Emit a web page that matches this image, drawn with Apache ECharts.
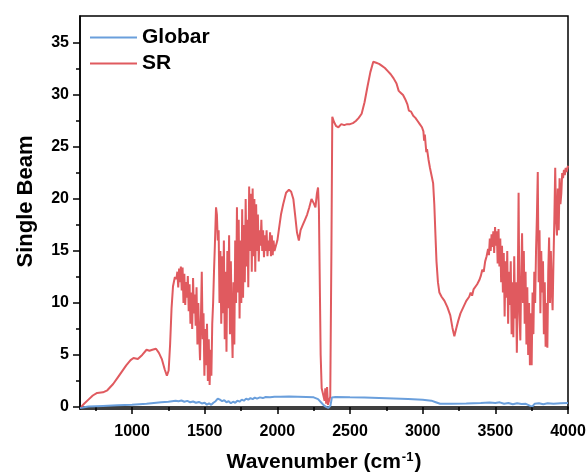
<!DOCTYPE html>
<html>
<head>
<meta charset="utf-8">
<script src="https://cdn.jsdelivr.net/npm/echarts@6/dist/echarts.min.js"></script>
<style>
html, body { margin: 0; padding: 0; background: #fff; }
#chart { width: 587px; height: 473px; }
</style>
</head>
<body>
<div id="chart"></div>
<script>
var xTicks = [1000, 1500, 2000, 2500, 3000, 3500, 4000];
var xMinorTicks = [750, 1250, 1750, 2250, 2750, 3250, 3750];
var yTicks = [0, 5, 10, 15, 20, 25, 30, 35];
var yMinorTicks = [2.5, 7.5, 12.5, 17.5, 22.5, 27.5, 32.5];

// Globar source
var globarX = [642, 700, 800, 900, 1000, 1100, 1200, 1250, 1300, 1320, 1340, 1360, 1380, 1400, 1420, 1440, 1460, 1480, 1500, 1515,
    1530, 1545, 1560, 1575, 1590, 1605, 1620, 1635, 1650, 1665, 1680, 1695, 1710, 1725, 1740, 1755, 1770, 1785, 1800, 1815,
    1830, 1845, 1860, 1880, 1900, 1920, 1950, 1980, 2020, 2080, 2140, 2200, 2250, 2280, 2300, 2320, 2335, 2350, 2365, 2375,
    2400, 2500, 2600, 2700, 2800, 2900, 3000, 3060, 3090, 3120, 3200, 3300, 3400, 3460, 3500, 3530, 3560, 3590, 3620, 3650,
    3680, 3710, 3740, 3755, 3770, 3800, 3830, 3860, 3900, 3950, 4000];
var globarY = [-0.1, 0.05, 0.1, 0.15, 0.2, 0.3, 0.45, 0.5, 0.6, 0.55, 0.62, 0.5, 0.58, 0.45, 0.52, 0.4, 0.48, 0.33, 0.4, 0.22,
    0.35, 0.2, 0.4, 0.55, 0.8, 0.7, 0.55, 0.65, 0.45, 0.55, 0.35, 0.5, 0.4, 0.6, 0.5, 0.7, 0.6, 0.8, 0.7, 0.85,
    0.75, 0.9, 0.8, 0.92, 0.85, 0.95, 0.92, 0.98, 0.97, 1.0, 0.98, 0.95, 0.92, 0.75, 0.45, 0.15, 0.0, -0.1, 0.1, 0.9,
    0.95, 0.92, 0.9, 0.85, 0.8, 0.75, 0.7, 0.6, 0.45, 0.3, 0.3, 0.32, 0.38, 0.42, 0.38, 0.44, 0.3, 0.38, 0.25, 0.35,
    0.28, 0.3, 0.1, 0.05, 0.3, 0.35, 0.25, 0.35, 0.3, 0.35, 0.38];

// SR source
var srX = [650, 670, 700, 730, 760, 800, 830, 870, 900, 930, 960, 990, 1010, 1040, 1070, 1100, 1120, 1140, 1165, 1185,
    1205, 1225, 1240, 1252, 1262, 1272, 1282, 1295, 1305, 1312, 1318, 1324, 1330, 1336, 1342, 1348, 1354, 1360, 1366, 1372,
    1378, 1384, 1390, 1396, 1402, 1408, 1414, 1420, 1426, 1432, 1438, 1444, 1450, 1456, 1462, 1468, 1474, 1480, 1486, 1492,
    1498, 1504, 1510, 1516, 1522, 1528, 1534, 1540, 1546, 1552, 1558, 1564, 1570, 1578, 1584, 1590, 1596, 1602, 1608, 1614,
    1620, 1626, 1632, 1638, 1644, 1650, 1656, 1662, 1668, 1674, 1680, 1686, 1692, 1698, 1704, 1710, 1716, 1722, 1728, 1734,
    1740, 1746, 1752, 1758, 1764, 1770, 1776, 1782, 1788, 1794, 1800, 1806, 1812, 1818, 1824, 1830, 1836, 1842, 1848, 1854,
    1860, 1866, 1872, 1878, 1884, 1890, 1896, 1902, 1908, 1914, 1920, 1926, 1932, 1938, 1944, 1950, 1956, 1962, 1968, 1974,
    1980, 1990, 2000, 2010, 2025, 2040, 2060, 2080, 2095, 2110, 2122, 2135, 2148, 2160, 2175, 2190, 2205, 2220, 2235, 2250,
    2262, 2272, 2280, 2286, 2292, 2298, 2305, 2315, 2325, 2330, 2336, 2342, 2348, 2356, 2364, 2372, 2378, 2390, 2405, 2420,
    2440, 2460, 2480, 2500, 2520, 2540, 2560, 2580, 2600, 2620, 2640, 2660, 2680, 2700, 2720, 2740, 2760, 2780, 2800, 2820,
    2835, 2850, 2865, 2880, 2895, 2905, 2920, 2935, 2950, 2965, 2980, 2995, 3005, 3010, 3015, 3020, 3025, 3030, 3040, 3050,
    3065, 3072, 3080, 3088, 3095, 3105, 3115, 3130, 3150, 3170, 3190, 3205, 3218, 3230, 3245, 3260, 3280, 3300, 3320, 3330,
    3340, 3350, 3360, 3375, 3390, 3400, 3410, 3420, 3430, 3440, 3450, 3456, 3462, 3468, 3474, 3480, 3486, 3492, 3498, 3504,
    3510, 3516, 3522, 3528, 3534, 3540, 3546, 3552, 3558, 3564, 3570, 3576, 3582, 3588, 3594, 3600, 3606, 3612, 3618, 3624,
    3630, 3636, 3642, 3648, 3654, 3660, 3666, 3672, 3678, 3684, 3690, 3696, 3702, 3708, 3714, 3720, 3726, 3732, 3738, 3744,
    3750, 3756, 3762, 3768, 3774, 3780, 3786, 3792, 3798, 3804, 3810, 3816, 3822, 3828, 3834, 3840, 3846, 3852, 3858, 3864,
    3870, 3876, 3882, 3888, 3894, 3900, 3906, 3912, 3918, 3924, 3930, 3936, 3942, 3948, 3954, 3960, 3966, 3972, 3978, 3984,
    3990, 4000];
var srY = [0.0, 0.3, 0.7, 1.1, 1.35, 1.4, 1.6, 2.2, 2.8, 3.4, 4.0, 4.5, 4.7, 4.6, 5.0, 5.5, 5.4, 5.5, 5.6, 5.2,
    4.6, 3.6, 3.0, 3.5, 6.0, 9.5, 11.6, 12.5, 12.3, 13.0, 11.5, 13.3, 12.0, 13.5, 11.2, 13.4, 10.0, 12.8, 9.8, 12.0,
    10.5, 12.6, 9.2, 11.8, 8.0, 11.0, 7.5, 12.4, 9.0, 10.8, 7.8, 11.5, 6.0, 10.0, 7.0, 4.5, 8.5, 13.0, 6.5, 9.0,
    3.0, 7.5, 4.0, 8.0, 2.5, 6.5, 2.1, 5.5, 3.0, 8.0, 10.0, 13.0, 15.5, 19.2, 18.5, 16.0, 17.0, 10.0, 15.0, 8.0,
    14.5, 9.0, 16.0, 6.5, 13.0, 5.3, 15.0, 9.5, 16.5, 7.0, 14.0, 8.5, 4.7, 12.0, 6.0, 16.0, 10.0, 19.2, 11.0, 18.0,
    8.5, 16.0, 10.0, 19.0, 10.5, 17.5, 12.0, 20.0, 13.5, 18.0, 11.5, 21.2, 15.0, 20.5, 13.0, 21.0, 14.5, 20.0, 13.0, 19.5,
    15.0, 18.5, 14.0, 17.0, 15.5, 18.0, 15.0, 17.0, 14.4, 16.5, 15.0, 17.0, 14.5, 16.0, 15.0, 16.8, 14.5, 16.5, 14.6, 16.0,
    15.0, 15.5, 16.0, 17.0, 18.5, 19.5, 20.6, 20.9, 20.7, 20.0, 18.5, 16.8, 16.0, 17.0, 17.5, 18.0, 18.5, 19.2, 20.0, 19.6,
    19.2, 20.5, 21.1, 19.0, 12.0, 5.0, 1.8, 1.2, 0.6, 1.8, 0.3, 1.9, 0.2, 0.3, 1.0, 15.0, 27.9, 27.4, 27.0, 26.9,
    27.2, 27.1, 27.2, 27.2, 27.3, 27.5, 27.8, 28.2, 29.3, 30.8, 32.2, 33.2, 33.1, 33.0, 32.8, 32.6, 32.3, 32.0, 31.6, 31.1,
    30.4, 30.2, 30.0, 29.6, 29.1, 28.5, 28.4, 28.0, 27.8, 27.5, 27.2, 26.9, 26.5, 25.6, 26.2, 25.3, 24.5, 24.8, 23.8, 23.0,
    22.0, 21.5, 19.5, 16.5, 14.0, 12.0, 11.0, 10.6, 10.2, 9.6, 8.8, 7.6, 6.8, 7.5, 8.3, 9.0, 9.6, 10.2, 10.6, 11.0,
    10.7, 11.3, 11.2, 11.8, 12.2, 12.6, 13.2, 13.0, 14.0, 14.5, 15.2, 14.6, 16.2, 15.0, 16.6, 15.4, 16.9, 14.8, 17.3, 15.5,
    16.9, 13.8, 17.1, 13.5, 16.2, 12.0, 15.5, 11.0, 14.8, 8.7, 14.0, 10.5, 15.0, 8.0, 13.0, 9.8, 14.0, 7.0, 12.0, 6.7,
    14.5, 8.5, 12.0, 5.2, 11.0, 20.6, 9.0, 6.4, 12.5, 16.7, 10.0, 15.0, 8.0, 13.0, 6.0, 11.5, 5.0, 10.0, 4.0, 9.0,
    4.0, 11.0, 7.0, 13.0, 10.0, 15.0, 18.3, 22.6, 12.0, 17.0, 9.0, 15.0, 11.0, 14.0, 7.0, 12.0, 5.8, 10.0, 5.7, 13.0,
    16.3, 10.0, 15.0, 11.5, 9.3, 14.0, 18.0, 23.0, 18.0, 16.5, 21.0, 17.0, 22.0, 19.5, 20.5, 22.5, 22.0, 22.8, 22.3, 23.0,
    22.6, 23.2];

function zip(xs, ys) {
    var out = [];
    for (var i = 0; i < xs.length; i++) out.push([xs[i], ys[i]]);
    return out;
}

function plain(v) {
    return String(v);
}

var font = 'Liberation Sans, Arial, sans-serif';
var chart = echarts.init(document.getElementById('chart'));

var option = {
    animation: false,
    backgroundColor: '#fff',
    textStyle: { fontFamily: font },
    grid: {
        left: 80, right: 19, top: 16, bottom: 64,
        outerBoundsMode: 'none',
        show: true, borderColor: '#000', borderWidth: 1.5
    },
    legend: {
        orient: 'vertical',
        left: 84,
        top: 22,
        itemWidth: 47,
        itemHeight: 14,
        itemGap: 5,
        itemStyle: { opacity: 0 },
        textStyle: { fontSize: 21, fontWeight: 'bold', color: '#000', fontFamily: font },
        data: ['Globar', 'SR']
    },
    xAxis: [
        {
            type: 'value',
            min: 642, max: 4000,
            position: 'bottom',
            name: '{a|Wavenumber (cm}{s|-1}{a|)}',
            nameLocation: 'middle',
            nameGap: 42,
            nameTextStyle: {
                rich: {
                    a: { fontSize: 21, fontWeight: 'bold', color: '#000', fontFamily: font },
                    s: { fontSize: 13, fontWeight: 'bold', color: '#000', fontFamily: font, verticalAlign: 'top', padding: [0, 1, 10, 1] }
                }
            },
            axisLine: { lineStyle: { color: '#000', width: 1.5 } },
            axisTick: { customValues: xTicks, length: 7, lineStyle: { color: '#000', width: 1.5 } },
            axisLabel: { customValues: xTicks, formatter: plain, margin: 15, fontSize: 16, fontWeight: 'bold', color: '#000', fontFamily: font },
            splitLine: { show: false }
        },
        {
            type: 'value',
            min: 642, max: 4000,
            position: 'bottom',
            axisLine: { show: false },
            axisTick: { customValues: xMinorTicks, length: 4, lineStyle: { color: '#000', width: 1.5 } },
            axisLabel: { show: false },
            splitLine: { show: false }
        }
    ],
    yAxis: [
        {
            type: 'value',
            min: -0.2, max: 37.6,
            position: 'left',
            name: 'Single Beam',
            nameLocation: 'middle',
            nameGap: 43,
            nameTextStyle: { fontSize: 22, fontWeight: 'bold', color: '#000', fontFamily: font, padding: [0, 0, 0, 22] },
            axisLine: { show: true, lineStyle: { color: '#000', width: 1.5 } },
            axisTick: { show: true, customValues: yTicks, length: 7, lineStyle: { color: '#000', width: 1.5 } },
            axisLabel: { customValues: yTicks, formatter: plain, margin: 11, fontSize: 16, fontWeight: 'bold', color: '#000', fontFamily: font },
            splitLine: { show: false }
        },
        {
            type: 'value',
            min: -0.2, max: 37.6,
            position: 'left',
            axisLine: { show: false },
            axisTick: { show: true, customValues: yMinorTicks, length: 4, lineStyle: { color: '#000', width: 1.5 } },
            axisLabel: { show: false },
            splitLine: { show: false }
        }
    ],
    series: [
        {
            name: 'Globar',
            type: 'line',
            symbol: 'none',
            data: zip(globarX, globarY),
            lineStyle: { color: '#6a9fdc', width: 2 },
            itemStyle: { color: '#6a9fdc' }
        },
        {
            name: 'SR',
            type: 'line',
            symbol: 'none',
            data: zip(srX, srY),
            lineStyle: { color: '#e05a5f', width: 2 },
            itemStyle: { color: '#e05a5f' }
        }
    ]
};

chart.setOption(option);
</script>
</body>
</html>
